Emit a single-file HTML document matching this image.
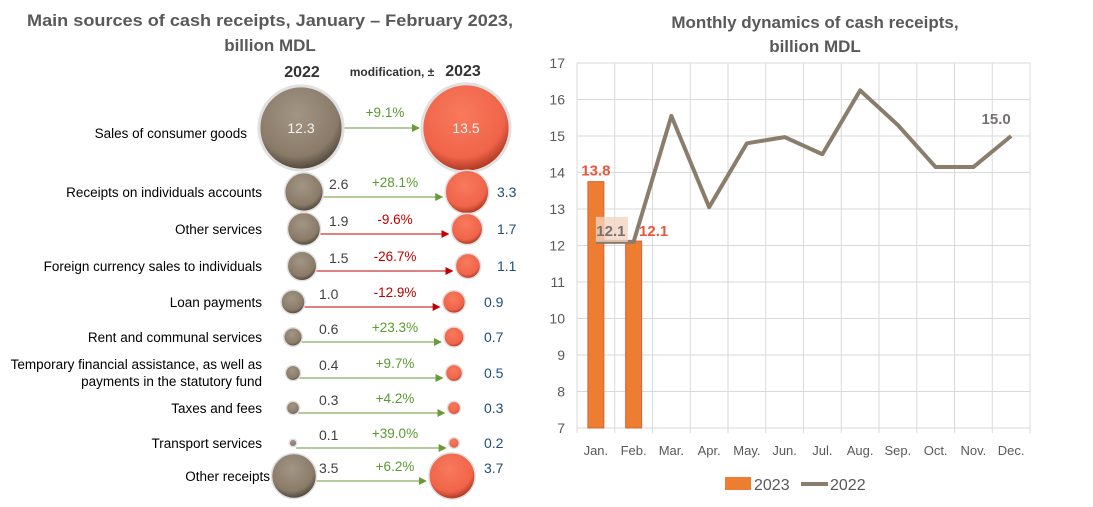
<!DOCTYPE html>
<html><head><meta charset="utf-8"><style>
html,body{margin:0;padding:0;background:#fff;}
svg{display:block;font-family:"Liberation Sans",sans-serif;}
</style></head><body>
<svg id="s" width="1093" height="507" viewBox="0 0 1093 507">
<defs>
<radialGradient id="gb" cx="45%" cy="35%" r="65%"><stop offset="0" stop-color="#a39584"/><stop offset="0.75" stop-color="#8a7b69"/><stop offset="1" stop-color="#4e4438"/></radialGradient>
<radialGradient id="go" cx="45%" cy="35%" r="65%"><stop offset="0" stop-color="#f87a5c"/><stop offset="0.75" stop-color="#f0644a"/><stop offset="1" stop-color="#a8361f"/></radialGradient>
<marker id="ag" markerWidth="8" markerHeight="8" refX="7" refY="4" orient="auto"><path d="M0,0 L8,4 L0,8 z" fill="#6a9a3a"/></marker>
<marker id="ar" markerWidth="8" markerHeight="8" refX="7" refY="4" orient="auto"><path d="M0,0 L8,4 L0,8 z" fill="#c00000"/></marker>
</defs>
<g fill="#595959" font-weight="bold" font-size="17" text-anchor="middle">
<text x="270" y="26" textLength="486" lengthAdjust="spacingAndGlyphs">Main sources of cash receipts, January – February 2023,</text>
<text x="270" y="51">billion MDL</text>
</g>
<text x="302" y="77" font-size="16" font-weight="bold" fill="#333" text-anchor="middle">2022</text>
<text x="392" y="76" font-size="12" font-weight="bold" fill="#333" text-anchor="middle">modification, ±</text>
<text x="463" y="76" font-size="16" font-weight="bold" fill="#333" text-anchor="middle">2023</text>
<g id="bub"></g>
<text fill="#595959" font-weight="bold" font-size="17" text-anchor="middle"><tspan x="815" y="28">Monthly dynamics of cash receipts,</tspan><tspan x="815" y="52">billion MDL</tspan></text>
<g id="chart"></g>
</svg>
<script>
const NS="http://www.w3.org/2000/svg";
function mk(p,t,a){const e=document.createElementNS(NS,t);for(const k in a)e.setAttribute(k,a[k]);p.appendChild(e);return e;}
// bubble data
const rowLabels=[["Sales of consumer goods"],["Receipts on individuals accounts"],["Other services"],["Foreign currency sales to individuals"],["Loan payments"],["Rent and communal services"],["Temporary financial assistance, as well as","payments in the statutory fund"],["Taxes and fees"],["Transport services"],["Other receipts"]];
const v2022=[12.3,2.6,1.9,1.5,1.0,0.6,0.4,0.3,0.1,3.5];
const v2023=[13.5,3.3,1.7,1.1,0.9,0.7,0.5,0.3,0.2,3.7];
const changes=["+9.1%","+28.1%","-9.6%","-26.7%","-12.9%","+23.3%","+9.7%","+4.2%","+39.0%","+6.2%"];
const rowY=[128,192,229,266,302,337,373,408,443,476];
const lx=[301,304,304,302,293,293,293,293,293,294];
const rx=[466,467,467,468,454,454,454,454,454,452];
const bub=document.getElementById('bub');
function rad(v){return Math.max(3,12*Math.sqrt(v));}
rowLabels.forEach((lab,i)=>{
 const y=rowY[i],r1=rad(v2022[i]),r2=rad(v2023[i]);
 const g=mk(bub,'g',{});
 
 
 const lxp=i==0?247:(i==9?270:262);
 const tl=mk(g,'text',{x:lxp,y:lab.length>1?y-4:y+(i==0?10:5),'font-size':13.5,fill:'#000','text-anchor':'end'});
 
 
 lab.forEach((s,j)=>{const ts=mk(tl,'tspan',{x:lxp,dy:j?17:0});ts.textContent=s;});
 const neg=changes[i][0]=='-';
 const ay=i==0?y:y+5;
 const ln=mk(g,'line',{x1:lx[i]+r1*0.8,y1:ay,x2:rx[i]-r2-3,y2:ay,stroke:neg?'#c00000':'#6a9a3a','stroke-width':1,'marker-end':neg?'url(#ar)':'url(#ag)'});
 
 
 const c1=mk(g,'circle',{cx:lx[i],cy:y,r:r1,fill:'url(#gb)',stroke:'#e0e0e0','stroke-width':i==0?3:1.5});
 
 
 const c2=mk(g,'circle',{cx:rx[i],cy:y,r:r2,fill:'url(#go)',stroke:'#e0e0e0','stroke-width':i==0?3:1.5});
 
 
 let t;
 if(i==0){
  t=mk(g,'text',{x:lx[i],y:y+5,'font-size':14,fill:'#f2f2f2','text-anchor':'middle'});t.textContent=v2022[i].toFixed(1);
  
  t=mk(g,'text',{x:rx[i],y:y+5,'font-size':14,fill:'#f2f2f2','text-anchor':'middle'});t.textContent=v2023[i].toFixed(1);
  
 }else{
  t=mk(g,'text',{x:i<4?329:319,y:y-3,'font-size':14,fill:'#404040'});t.textContent=v2022[i].toFixed(1);
  
  t=mk(g,'text',{x:i<4?497:484,y:y+(i==9?-3:5),'font-size':14,fill:'#1f4e79'});t.textContent=v2023[i].toFixed(1);
  
 }
 t=mk(g,'text',{x:i==0?385:395,y:i==0?y-11:y-5,'font-size':13.5,fill:neg?'#c00000':'#5a9a2e','text-anchor':'middle'});t.textContent=changes[i];
 
});
// line/bar chart data
const months=["Jan.","Feb.","Mar.","Apr.","May.","Jun.","Jul.","Aug.","Sep.","Oct.","Nov.","Dec."];
const bars2023=[13.75,12.12];
const line2022=[12.1,12.1,15.55,13.05,14.8,14.97,14.5,16.25,15.3,14.15,14.15,15.0];
const yTicks=[7,8,9,10,11,12,13,14,15,16,17];
const X0=577,X1=1030,Y0=428,Y1=63,ymin=7,ymax=17;
const bw=(X1-X0)/12;
const xs=i=>X0+bw*(i+0.5);
const ys=v=>Y0-(v-ymin)/(ymax-ymin)*(Y0-Y1);
const ch=document.getElementById('chart');
const grid=mk(ch,'g',{stroke:'#d9d9d9','stroke-width':1});

yTicks.forEach(v=>{mk(grid,'line',{x1:X0,x2:X1,y1:ys(v),y2:ys(v)});
 const t=mk(ch,'text',{x:X0-12,y:ys(v)+5,'font-size':14,fill:'#595959','text-anchor':'end'});t.textContent=v;
 });
for(let i=0;i<=12;i++)mk(grid,'line',{x1:X0+bw*i,x2:X0+bw*i,y1:Y1,y2:Y0+5});
months.forEach((m,i)=>{const t=mk(ch,'text',{x:xs(i),y:Y0+27,'font-size':13,fill:'#595959','text-anchor':'middle'});t.textContent=m;
 });
bars2023.forEach((v,i)=>{const r=mk(ch,'rect',{x:xs(i)-8,y:ys(v),width:16,height:Y0-ys(v),fill:'#ed7d31',stroke:'#e0603a','stroke-width':1});
 });
const pl=mk(ch,'polyline',{points:line2022.map((v,i)=>xs(i)+','+ys(v)).join(' '),fill:'none',stroke:'#8b7d6b','stroke-width':4,'stroke-linejoin':'round'});

let t=mk(ch,'rect',{x:xs(0)+0,y:ys(line2022[0])-25,width:32,height:25,fill:'#f3d3c0',opacity:0.8});

function lbl(x,y,s,c,n){const e=mk(ch,'text',{x:x,y:y,'font-size':15,'font-weight':'bold',fill:c,'text-anchor':'middle'});e.textContent=s;}
lbl(xs(0),ys(bars2023[0])-6,bars2023[0].toFixed(1),'#e8573a','bar-label-jan');
lbl(xs(1)+20,ys(bars2023[1])-5,bars2023[1].toFixed(1),'#e8573a','bar-label-feb');
lbl(xs(0)+15,ys(line2022[0])-6,line2022[0].toFixed(1),'#767171','line-label-jan');
lbl(xs(11)-15,ys(line2022[11])-12,line2022[11].toFixed(1),'#767171','line-label-dec');
const lg=mk(ch,'g',{});
mk(lg,'rect',{x:725,y:477,width:26,height:13,fill:'#ed7d31'});
let e=mk(lg,'text',{x:754,y:490,'font-size':16,fill:'#595959'});e.textContent='2023';
mk(lg,'line',{x1:801,x2:828,y1:484,y2:484,stroke:'#8b7d6b','stroke-width':4});
e=mk(lg,'text',{x:830,y:490,'font-size':16,fill:'#595959'});e.textContent='2022';
</script>
</body></html>
